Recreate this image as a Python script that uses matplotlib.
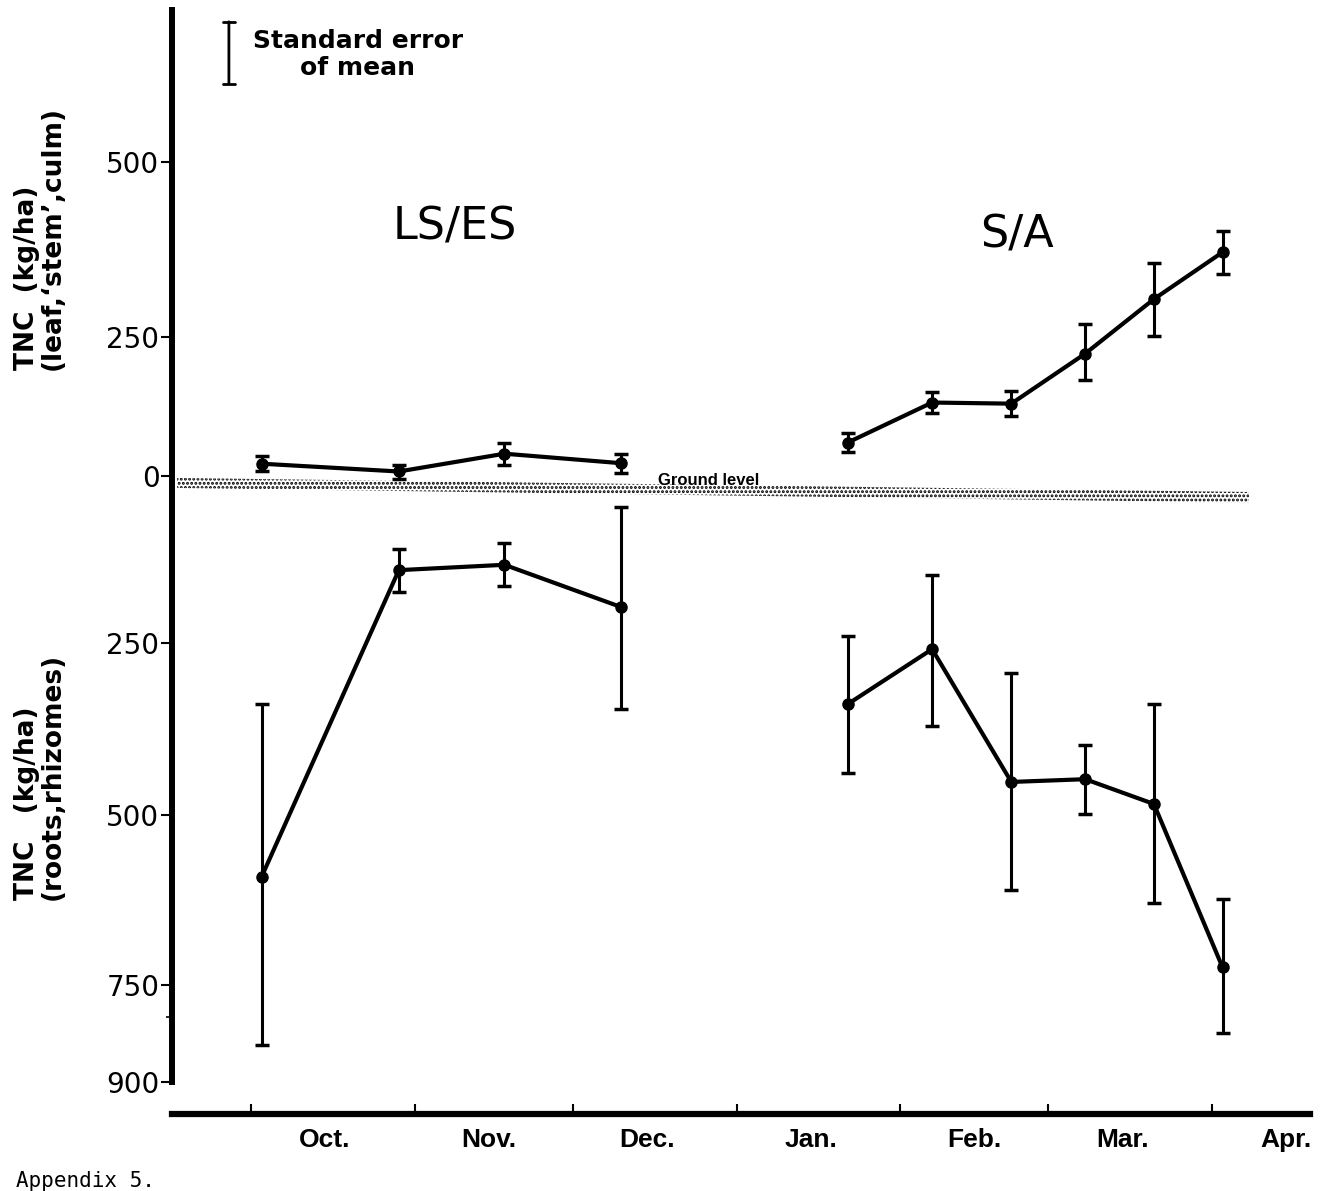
import numpy as np
import matplotlib.pyplot as plt
from matplotlib.ticker import FixedLocator, FuncFormatter

# sampling dates, days after 1 October
ls_es_days = [2, 28, 48, 70]
s_a_days = [113, 129, 144, 158, 171, 184]

# TNC above ground (leaf, 'stem', culm), kg/ha, with standard error
ls_es_top = [22, 8, 40, 23]
ls_es_top_se = [14, 12, 20, 17]
s_a_top = [60, 132, 130, 220, 304, 371]
s_a_top_se = [17, 19, 22, 48, 52, 31]

# TNC below ground (roots, rhizomes), kg/ha, with standard error
ls_es_bot = [591, 141, 133, 196]
ls_es_bot_se = [252, 32, 32, 150]
s_a_bot = [339, 259, 452, 448, 484, 724]
s_a_bot_se = [100, 111, 159, 50, 145, 100]

months = ["Oct.", "Nov.", "Dec.", "Jan.", "Feb.", "Mar.", "Apr."]
month_start = [0, 31, 61, 92, 123, 151, 182]
month_mid = [14, 45, 75, 106, 137, 165, 196]

# the original y axis was drawn by hand: below ground is linear, above ground
# the 250-500 step is longer than 0-250, so use a piecewise scale
scale_vals = [-1000, -900, -750, -500, -250, 0, 250, 500, 800]
scale_pos = [-1150, -1082, -985, -815, -643, -476, -337, -162, 48]

def fwd(v):
    return np.interp(v, scale_vals, scale_pos)

def inv(p):
    return np.interp(p, scale_pos, scale_vals)

W, H = 1322, 1191
fig = plt.figure(figsize=(W / 100, H / 100), dpi=100)
narrow = ["Liberation Sans Narrow", "Liberation Sans", "DejaVu Sans"]

left, right = 172 / W, 1310 / W
ax = fig.add_axes([left, 1 - 1082 / H, right - left, (1082 - 10) / H])
ax.set_yscale("function", functions=(fwd, inv))
ax.set_xlim((172 - 251) / 5.28, (1310 - 251) / 5.28)
ax.set_ylim(-900, 717)

for s in ["top", "right", "bottom"]:
    ax.spines[s].set_visible(False)
ax.spines["left"].set_linewidth(4.3)
ax.set_xticks([])
ax.yaxis.set_major_locator(FixedLocator([-900, -750, -500, -250, 0, 250, 500]))
ax.yaxis.set_minor_locator(FixedLocator([-800]))
ax.yaxis.set_major_formatter(FuncFormatter(lambda v, p: f"{abs(v):.0f}"))
ax.tick_params(axis="y", which="major", direction="out", length=8, width=1.5,
               pad=1, labelsize=20)
ax.tick_params(axis="y", which="minor", direction="out", length=4, width=1.2)

# ground level band (stippled)
plt.rcParams["hatch.linewidth"] = 1.4
ax.fill_between([-14, 189], [-3, -24], [-18, -40], facecolor="none",
                edgecolor="black", linewidth=0, hatch="....")
ax.text(77, -14, "Ground level", fontsize=12, fontweight="bold",
        family=narrow, va="baseline")

style = dict(fmt="-o", color="black", lw=3, ms=8, elinewidth=2.2,
             capsize=5, capthick=2.5)
ax.errorbar(ls_es_days, ls_es_top, yerr=ls_es_top_se, **style)
ax.errorbar(s_a_days, s_a_top, yerr=s_a_top_se, **style)
ax.errorbar(ls_es_days, np.negative(ls_es_bot), yerr=ls_es_bot_se, **style)
ax.errorbar(s_a_days, np.negative(s_a_bot), yerr=s_a_bot_se, **style)

ax.text(38.6, 407, "LS/ES", fontsize=32, ha="center", va="center")
ax.text(145, 396, "S/A", fontsize=32, ha="center", va="center")

# key for the error bars
ax.annotate("", xy=(0.05, 0.989), xytext=(0.05, 0.931), xycoords="axes fraction",
            arrowprops=dict(arrowstyle="|-|,widthA=0.45,widthB=0.45", lw=2,
                            color="black", shrinkA=0, shrinkB=0))
ax.text(0.071, 0.982, "Standard error\nof mean", transform=ax.transAxes,
        fontsize=18, fontweight="bold", ha="left", va="top",
        multialignment="center", linespacing=1.15)

# axis titles
fig.text(40 / W, 1 - 370 / H, "TNC  (kg/ha)\n(leaf,\u2018stem\u2019,culm)",
         rotation=90, fontsize=19, fontweight="bold", ha="center", va="bottom",
         multialignment="left", linespacing=0.95)
fig.text(40 / W, 1 - 900 / H, "TNC   (kg/ha)\n(roots,rhizomes)",
         rotation=90, fontsize=19, fontweight="bold", ha="center", va="bottom",
         multialignment="left", linespacing=0.95)

# month axis drawn separately below the plot
ax2 = fig.add_axes([left, 1 - 1114 / H, right - left, 0.001])
ax2.set_xlim(ax.get_xlim())
for s in ["top", "right", "left"]:
    ax2.spines[s].set_visible(False)
ax2.spines["bottom"].set_linewidth(4.5)
ax2.set_yticks([])
ax2.set_xticks(month_start)
ax2.set_xticklabels([])
ax2.set_xticks(month_mid, minor=True)
ax2.set_xticklabels(months, minor=True, fontsize=19, fontweight="bold",
                    family=narrow)
ax2.tick_params(axis="x", which="major", direction="in", length=7, width=1.5)
ax2.tick_params(axis="x", which="minor", length=0, pad=10)

fig.text(16 / W, 0.0, "Appendix 5.", family="DejaVu Sans Mono",
         fontsize=15, va="bottom")

fig.savefig("out.png", dpi=100)
